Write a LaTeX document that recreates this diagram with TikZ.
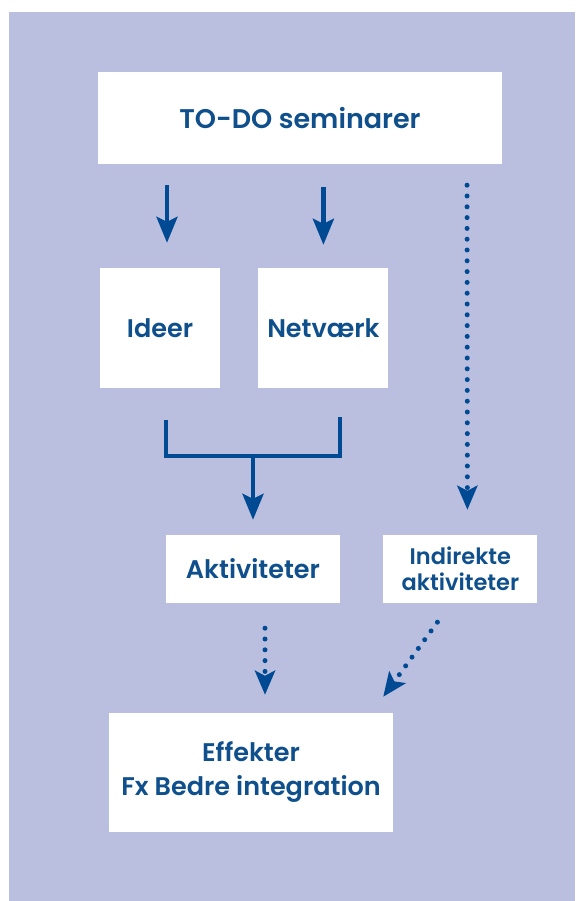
\documentclass[tikz,border=0pt]{standalone}
\usepackage{fontspec}
\setmainfont{Poppins}[BoldFont={* SemiBold}]
\usetikzlibrary{arrows.meta,positioning}
\definecolor{lavender}{HTML}{BABFDF}
\definecolor{deepblue}{HTML}{004A93}
\definecolor{textblue}{HTML}{0E4F8C}
\tikzset{
  box/.style={fill=white,draw=none,align=center,inner sep=0pt,text=textblue,font=\bfseries\fontsize{25.5}{34}\selectfont},
  arrow/.style={-{Stealth[length=26pt,width=21pt,inset=5pt]},line width=4.5pt,draw=deepblue},
  dotarrow/.style={-{Stealth[length=24pt,width=20pt,inset=5pt]},line width=5pt,draw=deepblue,line cap=round,dash pattern=on 0pt off 10.8pt}
}
\begin{document}
\begin{tikzpicture}[x=1pt,y=1pt]
\useasboundingbox (0,0) rectangle (575,-901);
\fill[lavender] (9,-12) rectangle (575,-901);
\node[box,minimum width=404pt,minimum height=92pt,font=\bfseries\fontsize{27}{30}\selectfont](todo) at (300,-118){TO-DO seminarer};
\node[box,minimum width=120pt,minimum height=120pt](ideer) at (160,-328){Ideer};
\node[box,minimum width=130pt,minimum height=120pt,right=38pt of ideer](netv){Netværk};
\node[box,minimum width=174pt,minimum height=68pt](akt) at (253,-569){Aktiviteter};
\node[box,minimum width=154pt,minimum height=68pt,right=43pt of akt,font=\bfseries\fontsize{22.5}{26}\selectfont](ind){Indirekte\\aktiviteter};
\node[box,minimum width=284pt,minimum height=119pt](eff) at (251,-772.5){Effekter\\Fx Bedre integration};
% samlet pil mod aktiviteter
\coordinate (jl) at (akt.west |- 0,-420);
\coordinate (jr) at (akt.east |- 0,-417);
\coordinate (jm) at (akt.north |- 0,-456);
\draw[arrow,shorten <=21pt](todo.south -| 167,0) -- ([xshift=7pt,yshift=25pt]ideer.north);
\draw[arrow,shorten <=23pt](todo.south -| netv.north) -- ([yshift=23pt]netv.north);
\draw[deepblue,line width=4.5pt](jl) |- (jm) -| (jr);
\draw[arrow](jm) -- ([yshift=15pt]akt.north);
\draw[dotarrow,shorten <=21pt](todo.south -| 467,0) -- ([xshift=7pt,yshift=25pt]ind.north);
\draw[dotarrow,shorten <=25pt]([xshift=12pt]akt.south) -- ([xshift=14pt,yshift=18pt]eff.north);
\draw[dotarrow]([xshift=-23pt,yshift=-19pt]ind.south) -- ([xshift=-10pt,yshift=16pt]eff.north east);
\end{tikzpicture}
\end{document}
